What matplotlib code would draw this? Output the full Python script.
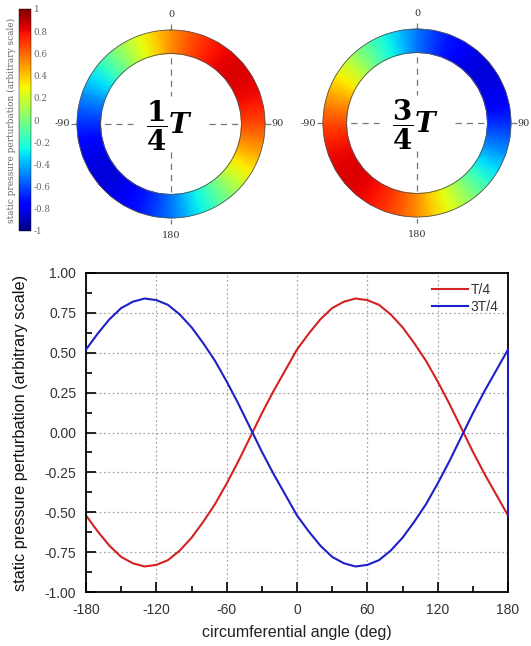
import numpy as np
import matplotlib
matplotlib.use('Agg')
import matplotlib.pyplot as plt
from matplotlib.ticker import MultipleLocator, FormatStrFormatter

# circumferential angle (deg), 10 deg steps
angle = [-180, -170, -160, -150, -140, -130, -120, -110, -100, -90,
         -80, -70, -60, -50, -40, -30, -20, -10, 0, 10,
         20, 30, 40, 50, 60, 70, 80, 90, 100, 110,
         120, 130, 140, 150, 160, 170, 180]

# static pressure perturbation at t = T/4
p_quarter = [-0.52, -0.62, -0.71, -0.78, -0.82, -0.84, -0.83, -0.80, -0.74, -0.66,
             -0.56, -0.45, -0.32, -0.18, -0.03, 0.12, 0.26, 0.39, 0.52, 0.62,
             0.71, 0.78, 0.82, 0.84, 0.83, 0.80, 0.74, 0.66, 0.56, 0.45,
             0.32, 0.18, 0.03, -0.12, -0.26, -0.39, -0.52]

# static pressure perturbation at t = 3T/4 (last point closes back onto T/4 end)
angle_3q = angle + [180]
p_three_quarter = [0.52, 0.62, 0.71, 0.78, 0.82, 0.84, 0.83, 0.80, 0.74, 0.66,
                   0.56, 0.45, 0.32, 0.18, 0.03, -0.12, -0.26, -0.39, -0.52, -0.62,
                   -0.71, -0.78, -0.82, -0.84, -0.83, -0.80, -0.74, -0.66, -0.56, -0.45,
                   -0.32, -0.18, -0.03, 0.12, 0.26, 0.39, 0.52, -0.52]

ring_titles = [r'$\dfrac{\mathbf{1}}{\mathbf{4}}\mathbfit{T}$',
               r'$\dfrac{\mathbf{3}}{\mathbf{4}}\mathbfit{T}$']
cbar_ticks = [1, 0.8, 0.6, 0.4, 0.2, 0, -0.2, -0.4, -0.6, -0.8, -1]

plt.rcParams['mathtext.fontset'] = 'dejavuserif'
plt.rcParams['axes.unicode_minus'] = False

W, H = 531, 646
fig = plt.figure(figsize=(W / 100, H / 100), dpi=100)
fig.patch.set_facecolor('white')


def px_axes(x0, y0, x1, y1):
    """Axes from pixel box (top-left origin)."""
    return fig.add_axes([x0 / W, 1 - y1 / H, (x1 - x0) / W, (y1 - y0) / H])


cmap = plt.get_cmap('jet')
norm = matplotlib.colors.Normalize(vmin=-1, vmax=1)

# ---------------------------------------------------------
# Ring maps
# ---------------------------------------------------------
r_in, r_out = 0.75, 1.0
ring_data = [p_quarter, p_three_quarter[:len(angle)]]
centres = [(171, 124), (417, 123)]
R_px = 94
lim = 1.25

for (cx, cy), vals, title in zip(centres, ring_data, ring_titles):
    half = lim * R_px
    ax = px_axes(cx - half, cy - half, cx + half, cy + half)
    ax.set_xlim(-lim, lim)
    ax.set_ylim(-lim, lim)
    ax.axis('off')

    th = np.radians(angle)
    rr = np.array([r_in, r_out])
    TH, RR = np.meshgrid(th, rr)
    X = RR * np.sin(TH)
    Y = RR * np.cos(TH)
    C = np.tile(vals, (2, 1))

    # dashed cross-hair, partly hidden behind the ring
    dash = dict(color='#777777', lw=0.9, ls=(0, (5, 4)), zorder=1)
    ax.plot([0, 0], [1.06, 0.3], **dash)
    ax.plot([0, 0], [-0.3, -1.06], **dash)
    ax.plot([-1.06, -0.4], [0, 0], **dash)
    ax.plot([0.4, 1.06], [0, 0], **dash)

    ax.pcolormesh(X, Y, C, cmap=cmap, norm=norm, shading='gouraud', zorder=2)
    t = np.linspace(0, 2 * np.pi, 300)
    for r in (r_in, r_out):
        ax.plot(r * np.sin(t), r * np.cos(t), color='#555555', lw=0.6, zorder=3)

    lab = dict(family='DejaVu Serif', fontsize=7, color='#333333')
    ax.text(0, 1.17, '0', ha='center', va='center', **lab)
    ax.text(0, -1.19, '180', ha='center', va='center', **lab)
    ax.text(1.07, 0, '90', ha='left', va='center', **lab)
    ax.text(-1.07, 0, '-90', ha='right', va='center', **lab)

    ax.text(-0.02, -0.02, title, ha='center', va='center', fontsize=20, zorder=4)

# ---------------------------------------------------------
# Colour bar
# ---------------------------------------------------------
cax = px_axes(19, 9, 31, 231)
sm = matplotlib.cm.ScalarMappable(norm=norm, cmap=cmap)
cb = fig.colorbar(sm, cax=cax, ticks=cbar_ticks)
cb.outline.set_linewidth(0.3)
cb.ax.set_yticklabels(['%g' % v for v in cbar_ticks])
cb.ax.tick_params(length=0, labelsize=6.3, labelcolor='#666666', pad=2)
for lbl in cb.ax.get_yticklabels():
    lbl.set_family('DejaVu Serif')
cb.ax.yaxis.set_label_position('left')
cb.set_label('static pressure perturbation (arbitrary scale)',
             family='DejaVu Serif', fontsize=6.4, color='#666666', labelpad=2)

# ---------------------------------------------------------
# Line plot
# ---------------------------------------------------------
ax = px_axes(86, 273, 508, 592)
ax.plot(angle, p_quarter, color='#d42222', lw=1.5, label='T/4')
ax.plot(angle_3q, p_three_quarter, color='#1f1fc8', lw=1.5, label='3T/4',
        clip_on=False, zorder=3)

ax.set_xlim(-180, 180)
ax.set_ylim(-1, 1)
ax.xaxis.set_major_locator(MultipleLocator(60))
ax.xaxis.set_minor_locator(MultipleLocator(30))
ax.yaxis.set_major_locator(MultipleLocator(0.25))
ax.yaxis.set_minor_locator(MultipleLocator(0.125))
ax.yaxis.set_major_formatter(FormatStrFormatter('%.2f'))
ax.grid(True, which='major', color='#aaaaaa', ls=(0, (1.5, 2)), lw=0.9)
ax.tick_params(which='both', direction='in', top=False, right=False,
               width=1.2, labelsize=10, labelcolor='#333333')
ax.tick_params(which='major', length=7)
ax.tick_params(which='minor', length=4)
ax.tick_params(axis='y', which='major', pad=7)
ax.tick_params(axis='x', which='major', pad=8)
for sp in ax.spines.values():
    sp.set_linewidth(1.3)
for lbl in ax.get_xticklabels() + ax.get_yticklabels():
    lbl.set_family('Liberation Sans')

ax.set_xlabel('circumferential angle (deg)', family='Liberation Sans',
              fontsize=11.5, color='#222222', labelpad=6)
ax.set_ylabel('static pressure perturbation (arbitrary scale)',
              family='Liberation Sans', fontsize=11.7, color='#111111', labelpad=12)
leg = ax.legend(loc='upper right', frameon=False, fontsize=10, handlelength=2.6,
                handletextpad=0.2, labelspacing=0.2, borderaxespad=0.3)
for txt in leg.get_texts():
    txt.set_family('Liberation Sans')
    txt.set_color('#333333')

fig.savefig('out.png', dpi=100)
